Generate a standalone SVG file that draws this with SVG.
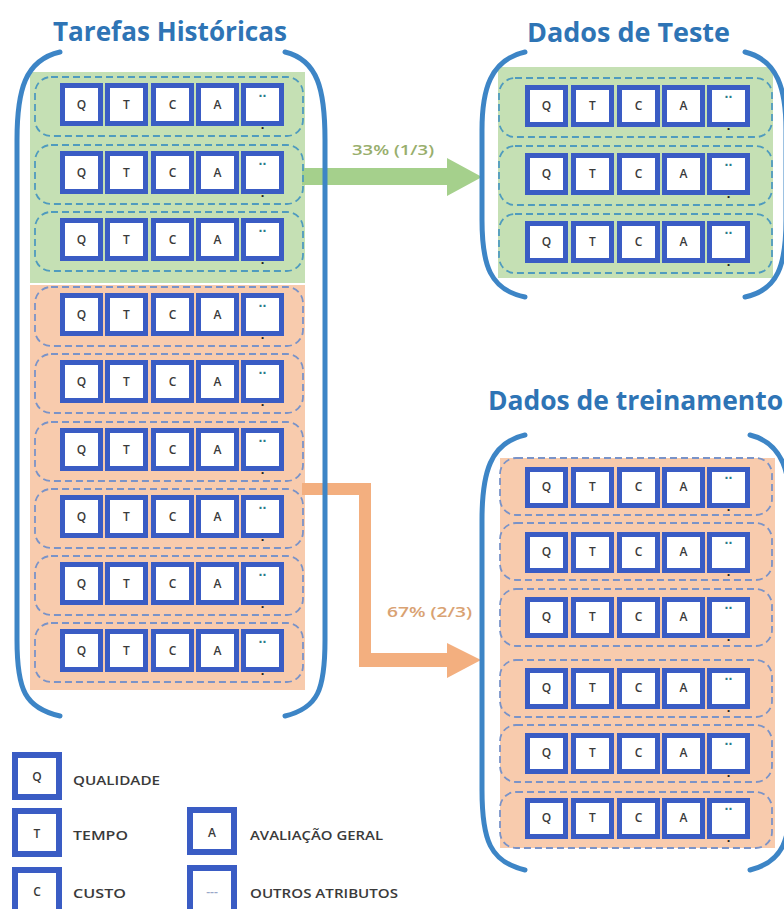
<svg xmlns="http://www.w3.org/2000/svg" width="784" height="909" viewBox="0 0 784 909">
<style>
.title{font-family:"Open Sans","Liberation Sans",sans-serif;font-weight:700;font-size:26px;fill:#2E74B5}
.brk{fill:none;stroke:#3D85C6;stroke-width:5;stroke-linecap:round}
.bgG{fill:#C5E0B4}
.bgO{fill:#F8CBAD}
.dashG{fill:none;stroke:#4F9BBE;stroke-width:1.8;stroke-dasharray:7 4}
.dashO{fill:none;stroke:#7A93C8;stroke-width:1.8;stroke-dasharray:7 4}
.bx{fill:#FFFFFF;stroke:#3A5CC4;stroke-width:5}
.lt{font-family:"Open Sans","Liberation Sans",sans-serif;font-weight:600;font-size:12px;fill:#3A3A3A;text-anchor:middle}
.dt{font-family:"Liberation Sans",Arial,sans-serif;font-weight:700;font-size:14px;fill:#2A7A8A;text-anchor:middle}
.db{font-family:"Liberation Sans",Arial,sans-serif;font-weight:700;font-size:13px;fill:#222;text-anchor:middle}
.lg{fill:#FFFFFF;stroke:#3A5CC4;stroke-width:6}
.lgt{font-family:"Open Sans","Liberation Sans",sans-serif;font-weight:600;font-size:12.5px;fill:#3A3A3A}
.lbl{font-family:"Open Sans","Liberation Sans",sans-serif;font-weight:600;font-size:14px}
</style>

<!-- Backgrounds -->
<g id="panel-historicas">
<rect class="bgG" x="30" y="72" width="275" height="211"/>
<rect class="bgO" x="30" y="285" width="275" height="405"/>
<text class="title" x="53" y="41" textLength="234" lengthAdjust="spacingAndGlyphs">Tarefas Históricas</text>
</g>
<g id="panel-teste">
<rect class="bgG" x="498" y="67" width="275" height="211"/>
<text class="title" x="527" y="42" textLength="203" lengthAdjust="spacingAndGlyphs">Dados de Teste</text>
</g>
<g id="panel-treino">
<rect class="bgO" x="500" y="458" width="275" height="390"/>
<text class="title" x="488" y="410" textLength="295" lengthAdjust="spacingAndGlyphs">Dados de treinamento</text>
</g>

<!-- Connectors -->
<g id="connectors">
<polygon fill="#A5D08C" points="302,168 447,168 447,158 482,177 447,196 447,185 302,185"/>
<polygon fill="#F3AF7F" points="302,483 371,483 371,653 447,653 447,643 481,660 447,678 447,667 359,667 359,495 302,495"/>
<text class="lbl" x="352" y="155" fill="#98AE6C" textLength="82" lengthAdjust="spacingAndGlyphs">33% (1/3)</text>
<text class="lbl" x="387" y="617" fill="#D9A272" textLength="85" lengthAdjust="spacingAndGlyphs">67% (2/3)</text>
</g>

<!-- Brackets -->
<g id="brackets">
<path class="brk" d="M60,52 C25,60 17,90 17,140 L17,640 C17,690 25,708 60,716"/>
<path class="brk" d="M285,52 C318,60 325,90 325,140 L325,640 C325,690 318,708 285,716"/>
<path class="brk" d="M525,52 C490,60 482,90 482,130 L482,220 C482,265 490,290 525,297"/>
<path class="brk" d="M745,52 C778,60 786,90 786,130 L786,220 C786,265 778,290 745,297"/>
<path class="brk" d="M525,435 C490,443 482,473 482,520 L482,790 C482,840 490,862 525,870"/>
<path class="brk" d="M750,435 C783,443 791,473 791,520 L791,790 C791,840 783,862 750,870"/>
</g>

<!-- Left rows -->
<g id="L1" transform="translate(60,83)">
<rect class="dashG" x="-25" y="-6" width="268" height="59" rx="16"/>
<rect class="bx" x="2.5" y="2.5" width="38" height="38"/><rect class="bx" x="47.5" y="2.5" width="38" height="38"/><rect class="bx" x="93.5" y="2.5" width="38" height="38"/><rect class="bx" x="138.5" y="2.5" width="38" height="38"/><rect class="bx" x="183.5" y="2.5" width="38" height="38"/>
<text class="lt" x="21.5" y="26">Q</text><text class="lt" x="66.5" y="26">T</text><text class="lt" x="112.5" y="26">C</text><text class="lt" x="157.5" y="26">A</text><text class="dt" x="202.5" y="14">..</text><text class="db" x="202.5" y="46">.</text>
</g>
<g id="L2" transform="translate(60,151)">
<rect class="dashG" x="-25" y="-6" width="268" height="59" rx="16"/>
<rect class="bx" x="2.5" y="2.5" width="38" height="38"/><rect class="bx" x="47.5" y="2.5" width="38" height="38"/><rect class="bx" x="93.5" y="2.5" width="38" height="38"/><rect class="bx" x="138.5" y="2.5" width="38" height="38"/><rect class="bx" x="183.5" y="2.5" width="38" height="38"/>
<text class="lt" x="21.5" y="26">Q</text><text class="lt" x="66.5" y="26">T</text><text class="lt" x="112.5" y="26">C</text><text class="lt" x="157.5" y="26">A</text><text class="dt" x="202.5" y="14">..</text><text class="db" x="202.5" y="46">.</text>
</g>
<g id="L3" transform="translate(60,218)">
<rect class="dashG" x="-25" y="-6" width="268" height="59" rx="16"/>
<rect class="bx" x="2.5" y="2.5" width="38" height="38"/><rect class="bx" x="47.5" y="2.5" width="38" height="38"/><rect class="bx" x="93.5" y="2.5" width="38" height="38"/><rect class="bx" x="138.5" y="2.5" width="38" height="38"/><rect class="bx" x="183.5" y="2.5" width="38" height="38"/>
<text class="lt" x="21.5" y="26">Q</text><text class="lt" x="66.5" y="26">T</text><text class="lt" x="112.5" y="26">C</text><text class="lt" x="157.5" y="26">A</text><text class="dt" x="202.5" y="14">..</text><text class="db" x="202.5" y="46">.</text>
</g>
<g id="L4" transform="translate(60,293)">
<rect class="dashO" x="-25" y="-6" width="268" height="59" rx="16"/>
<rect class="bx" x="2.5" y="2.5" width="38" height="38"/><rect class="bx" x="47.5" y="2.5" width="38" height="38"/><rect class="bx" x="93.5" y="2.5" width="38" height="38"/><rect class="bx" x="138.5" y="2.5" width="38" height="38"/><rect class="bx" x="183.5" y="2.5" width="38" height="38"/>
<text class="lt" x="21.5" y="26">Q</text><text class="lt" x="66.5" y="26">T</text><text class="lt" x="112.5" y="26">C</text><text class="lt" x="157.5" y="26">A</text><text class="dt" x="202.5" y="14">..</text><text class="db" x="202.5" y="46">.</text>
</g>
<g id="L5" transform="translate(60,360)">
<rect class="dashO" x="-25" y="-6" width="268" height="59" rx="16"/>
<rect class="bx" x="2.5" y="2.5" width="38" height="38"/><rect class="bx" x="47.5" y="2.5" width="38" height="38"/><rect class="bx" x="93.5" y="2.5" width="38" height="38"/><rect class="bx" x="138.5" y="2.5" width="38" height="38"/><rect class="bx" x="183.5" y="2.5" width="38" height="38"/>
<text class="lt" x="21.5" y="26">Q</text><text class="lt" x="66.5" y="26">T</text><text class="lt" x="112.5" y="26">C</text><text class="lt" x="157.5" y="26">A</text><text class="dt" x="202.5" y="14">..</text><text class="db" x="202.5" y="46">.</text>
</g>
<g id="L6" transform="translate(60,428)">
<rect class="dashO" x="-25" y="-6" width="268" height="59" rx="16"/>
<rect class="bx" x="2.5" y="2.5" width="38" height="38"/><rect class="bx" x="47.5" y="2.5" width="38" height="38"/><rect class="bx" x="93.5" y="2.5" width="38" height="38"/><rect class="bx" x="138.5" y="2.5" width="38" height="38"/><rect class="bx" x="183.5" y="2.5" width="38" height="38"/>
<text class="lt" x="21.5" y="26">Q</text><text class="lt" x="66.5" y="26">T</text><text class="lt" x="112.5" y="26">C</text><text class="lt" x="157.5" y="26">A</text><text class="dt" x="202.5" y="14">..</text><text class="db" x="202.5" y="46">.</text>
</g>
<g id="L7" transform="translate(60,495)">
<rect class="dashO" x="-25" y="-6" width="268" height="59" rx="16"/>
<rect class="bx" x="2.5" y="2.5" width="38" height="38"/><rect class="bx" x="47.5" y="2.5" width="38" height="38"/><rect class="bx" x="93.5" y="2.5" width="38" height="38"/><rect class="bx" x="138.5" y="2.5" width="38" height="38"/><rect class="bx" x="183.5" y="2.5" width="38" height="38"/>
<text class="lt" x="21.5" y="26">Q</text><text class="lt" x="66.5" y="26">T</text><text class="lt" x="112.5" y="26">C</text><text class="lt" x="157.5" y="26">A</text><text class="dt" x="202.5" y="14">..</text><text class="db" x="202.5" y="46">.</text>
</g>
<g id="L8" transform="translate(60,562)">
<rect class="dashO" x="-25" y="-6" width="268" height="59" rx="16"/>
<rect class="bx" x="2.5" y="2.5" width="38" height="38"/><rect class="bx" x="47.5" y="2.5" width="38" height="38"/><rect class="bx" x="93.5" y="2.5" width="38" height="38"/><rect class="bx" x="138.5" y="2.5" width="38" height="38"/><rect class="bx" x="183.5" y="2.5" width="38" height="38"/>
<text class="lt" x="21.5" y="26">Q</text><text class="lt" x="66.5" y="26">T</text><text class="lt" x="112.5" y="26">C</text><text class="lt" x="157.5" y="26">A</text><text class="dt" x="202.5" y="14">..</text><text class="db" x="202.5" y="46">.</text>
</g>
<g id="L9" transform="translate(60,629)">
<rect class="dashO" x="-25" y="-6" width="268" height="59" rx="16"/>
<rect class="bx" x="2.5" y="2.5" width="38" height="38"/><rect class="bx" x="47.5" y="2.5" width="38" height="38"/><rect class="bx" x="93.5" y="2.5" width="38" height="38"/><rect class="bx" x="138.5" y="2.5" width="38" height="38"/><rect class="bx" x="183.5" y="2.5" width="38" height="38"/>
<text class="lt" x="21.5" y="26">Q</text><text class="lt" x="66.5" y="26">T</text><text class="lt" x="112.5" y="26">C</text><text class="lt" x="157.5" y="26">A</text><text class="dt" x="202.5" y="14">..</text><text class="db" x="202.5" y="46">.</text>
</g>

<!-- Test rows -->
<g id="T1" transform="translate(525,85)">
<rect class="dashG" x="-26" y="-7" width="273" height="59" rx="16"/>
<rect class="bx" x="2.5" y="2.5" width="38" height="37"/><rect class="bx" x="48.5" y="2.5" width="38" height="37"/><rect class="bx" x="94.5" y="2.5" width="38" height="37"/><rect class="bx" x="139.5" y="2.5" width="38" height="37"/><rect class="bx" x="184.5" y="2.5" width="38" height="37"/>
<text class="lt" x="21.5" y="25">Q</text><text class="lt" x="67.5" y="25">T</text><text class="lt" x="113.5" y="25">C</text><text class="lt" x="158.5" y="25">A</text><text class="dt" x="203.5" y="13">..</text><text class="db" x="203.5" y="45">.</text>
</g>
<g id="T2" transform="translate(525,153)">
<rect class="dashG" x="-26" y="-7" width="273" height="59" rx="16"/>
<rect class="bx" x="2.5" y="2.5" width="38" height="37"/><rect class="bx" x="48.5" y="2.5" width="38" height="37"/><rect class="bx" x="94.5" y="2.5" width="38" height="37"/><rect class="bx" x="139.5" y="2.5" width="38" height="37"/><rect class="bx" x="184.5" y="2.5" width="38" height="37"/>
<text class="lt" x="21.5" y="25">Q</text><text class="lt" x="67.5" y="25">T</text><text class="lt" x="113.5" y="25">C</text><text class="lt" x="158.5" y="25">A</text><text class="dt" x="203.5" y="13">..</text><text class="db" x="203.5" y="45">.</text>
</g>
<g id="T3" transform="translate(525,221)">
<rect class="dashG" x="-26" y="-7" width="273" height="59" rx="16"/>
<rect class="bx" x="2.5" y="2.5" width="38" height="37"/><rect class="bx" x="48.5" y="2.5" width="38" height="37"/><rect class="bx" x="94.5" y="2.5" width="38" height="37"/><rect class="bx" x="139.5" y="2.5" width="38" height="37"/><rect class="bx" x="184.5" y="2.5" width="38" height="37"/>
<text class="lt" x="21.5" y="25">Q</text><text class="lt" x="67.5" y="25">T</text><text class="lt" x="113.5" y="25">C</text><text class="lt" x="158.5" y="25">A</text><text class="dt" x="203.5" y="13">..</text><text class="db" x="203.5" y="45">.</text>
</g>

<!-- Training rows -->
<g id="R1" transform="translate(525,467)">
<rect class="dashO" x="-25" y="-9" width="272" height="57" rx="16"/>
<rect class="bx" x="2.5" y="2.5" width="38" height="36"/><rect class="bx" x="48.5" y="2.5" width="38" height="36"/><rect class="bx" x="94.5" y="2.5" width="38" height="36"/><rect class="bx" x="139.5" y="2.5" width="38" height="36"/><rect class="bx" x="184.5" y="2.5" width="38" height="36"/>
<text class="lt" x="21.5" y="24">Q</text><text class="lt" x="67.5" y="24">T</text><text class="lt" x="113.5" y="24">C</text><text class="lt" x="158.5" y="24">A</text><text class="dt" x="203.5" y="12">..</text><text class="db" x="203.5" y="44">.</text>
</g>
<g id="R2" transform="translate(525,532)">
<rect class="dashO" x="-25" y="-9" width="272" height="57" rx="16"/>
<rect class="bx" x="2.5" y="2.5" width="38" height="36"/><rect class="bx" x="48.5" y="2.5" width="38" height="36"/><rect class="bx" x="94.5" y="2.5" width="38" height="36"/><rect class="bx" x="139.5" y="2.5" width="38" height="36"/><rect class="bx" x="184.5" y="2.5" width="38" height="36"/>
<text class="lt" x="21.5" y="24">Q</text><text class="lt" x="67.5" y="24">T</text><text class="lt" x="113.5" y="24">C</text><text class="lt" x="158.5" y="24">A</text><text class="dt" x="203.5" y="12">..</text><text class="db" x="203.5" y="44">.</text>
</g>
<g id="R3" transform="translate(525,597)">
<rect class="dashO" x="-25" y="-8" width="272" height="57" rx="16"/>
<rect class="bx" x="2.5" y="2.5" width="38" height="36"/><rect class="bx" x="48.5" y="2.5" width="38" height="36"/><rect class="bx" x="94.5" y="2.5" width="38" height="36"/><rect class="bx" x="139.5" y="2.5" width="38" height="36"/><rect class="bx" x="184.5" y="2.5" width="38" height="36"/>
<text class="lt" x="21.5" y="24">Q</text><text class="lt" x="67.5" y="24">T</text><text class="lt" x="113.5" y="24">C</text><text class="lt" x="158.5" y="24">A</text><text class="dt" x="203.5" y="12">..</text><text class="db" x="203.5" y="44">.</text>
</g>
<g id="R4" transform="translate(525,668)">
<rect class="dashO" x="-25" y="-8" width="272" height="57" rx="16"/>
<rect class="bx" x="2.5" y="2.5" width="38" height="36"/><rect class="bx" x="48.5" y="2.5" width="38" height="36"/><rect class="bx" x="94.5" y="2.5" width="38" height="36"/><rect class="bx" x="139.5" y="2.5" width="38" height="36"/><rect class="bx" x="184.5" y="2.5" width="38" height="36"/>
<text class="lt" x="21.5" y="24">Q</text><text class="lt" x="67.5" y="24">T</text><text class="lt" x="113.5" y="24">C</text><text class="lt" x="158.5" y="24">A</text><text class="dt" x="203.5" y="12">..</text><text class="db" x="203.5" y="44">.</text>
</g>
<g id="R5" transform="translate(525,733)">
<rect class="dashO" x="-25" y="-8" width="272" height="57" rx="16"/>
<rect class="bx" x="2.5" y="2.5" width="38" height="36"/><rect class="bx" x="48.5" y="2.5" width="38" height="36"/><rect class="bx" x="94.5" y="2.5" width="38" height="36"/><rect class="bx" x="139.5" y="2.5" width="38" height="36"/><rect class="bx" x="184.5" y="2.5" width="38" height="36"/>
<text class="lt" x="21.5" y="24">Q</text><text class="lt" x="67.5" y="24">T</text><text class="lt" x="113.5" y="24">C</text><text class="lt" x="158.5" y="24">A</text><text class="dt" x="203.5" y="12">..</text><text class="db" x="203.5" y="44">.</text>
</g>
<g id="R6" transform="translate(525,798)">
<rect class="dashO" x="-25" y="-6" width="272" height="56" rx="16"/>
<rect class="bx" x="2.5" y="2.5" width="38" height="36"/><rect class="bx" x="48.5" y="2.5" width="38" height="36"/><rect class="bx" x="94.5" y="2.5" width="38" height="36"/><rect class="bx" x="139.5" y="2.5" width="38" height="36"/><rect class="bx" x="184.5" y="2.5" width="38" height="36"/>
<text class="lt" x="21.5" y="24">Q</text><text class="lt" x="67.5" y="24">T</text><text class="lt" x="113.5" y="24">C</text><text class="lt" x="158.5" y="24">A</text><text class="dt" x="203.5" y="12">..</text><text class="db" x="203.5" y="44">.</text>
</g>

<!-- Legend -->
<g id="legend-q">
<rect class="lg" x="15" y="755" width="44" height="42"/>
<text class="lt" x="37" y="781">Q</text>
<text class="lgt" x="73" y="785" textLength="87" lengthAdjust="spacingAndGlyphs">QUALIDADE</text>
</g>
<g id="legend-t">
<rect class="lg" x="15" y="811" width="44" height="43"/>
<text class="lt" x="37" y="838">T</text>
<text class="lgt" x="73" y="840" textLength="55" lengthAdjust="spacingAndGlyphs">TEMPO</text>
</g>
<g id="legend-c">
<rect class="lg" x="15" y="870" width="44" height="44"/>
<text class="lt" x="37" y="896">C</text>
<text class="lgt" x="73" y="898" textLength="53" lengthAdjust="spacingAndGlyphs">CUSTO</text>
</g>
<g id="legend-a">
<rect class="lg" x="190" y="810" width="44" height="42"/>
<text class="lt" x="212" y="837">A</text>
<text class="lgt" x="250" y="840" textLength="133" lengthAdjust="spacingAndGlyphs">AVALIAÇÃO GERAL</text>
</g>
<g id="legend-o">
<rect class="lg" x="190" y="868" width="44" height="44"/>
<text class="lt" x="212" y="896" style="fill:#9AA8C8">---</text>
<text class="lgt" x="250" y="898" textLength="148" lengthAdjust="spacingAndGlyphs">OUTROS ATRIBUTOS</text>
</g>
</svg>
